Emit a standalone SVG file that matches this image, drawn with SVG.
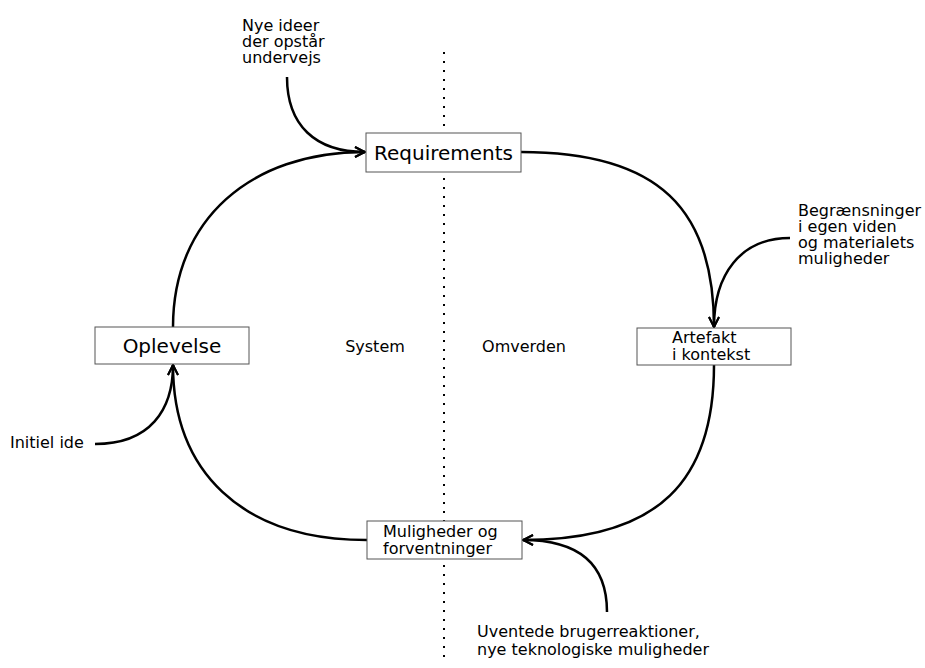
<svg xmlns="http://www.w3.org/2000/svg" width="925" height="668" viewBox="0 0 925 668">
<defs>
<marker id="arr" viewBox="0 0 12 12" refX="11" refY="6" markerWidth="12" markerHeight="12" markerUnits="userSpaceOnUse" orient="auto">
<path d="M1,1 L11,6 L1,11" fill="none" stroke="#000" stroke-width="2"/>
</marker>
<style>
.box{fill:#fff;stroke:#555;stroke-width:1}
.t{font-family:"DejaVu Sans",sans-serif;fill:#000}
.big{font-size:20px}
.sm{font-size:16px}
.c{fill:none;stroke:#000;stroke-width:2.5;marker-end:url(#arr)}
</style>
</defs>
<rect width="925" height="668" fill="#fff"/>
<line x1="444" y1="52" x2="444" y2="662" stroke="#000" stroke-width="2" stroke-dasharray="2 7"/>
<g id="connectors">
<path class="c" d="M521,152 C660,152 714,210 714,327"/>
<path class="c" d="M714,365 C714,480 660,540 523,540"/>
<path class="c" d="M367,540 C240,540 173,470 173,365"/>
<path class="c" d="M173,327 C173,220 250,152 365,152"/>
<path class="c" d="M287,77 C287,125 315,152 365,152"/>
<path class="c" d="M790,238 C740,238 714,275 714,327"/>
<path class="c" d="M95,444 C150,444 173,410 173,365"/>
<path class="c" d="M607,612 C607,565 580,540 523,540"/>
</g>
<g id="requirements">
<rect class="box" x="366" y="133" width="155" height="39"/>
<text class="t big" x="443.5" y="160" text-anchor="middle">Requirements</text>
</g>
<g id="oplevelse">
<rect class="box" x="95" y="327" width="154" height="37"/>
<text class="t big" x="172" y="353" text-anchor="middle">Oplevelse</text>
</g>
<g id="artefakt">
<rect class="box" x="637" y="328" width="154" height="37"/>
<text class="t sm" x="672" y="343">Artefakt</text>
<text class="t sm" x="672" y="360">i kontekst</text>
</g>
<g id="muligheder">
<rect class="box" x="367" y="521" width="155" height="38"/>
<text class="t sm" x="383" y="537">Muligheder og</text>
<text class="t sm" x="383" y="554">forventninger</text>
</g>
<g id="labels">
<text class="t sm" x="375" y="352" text-anchor="middle">System</text>
<text class="t sm" x="524" y="352" text-anchor="middle">Omverden</text>
<text class="t sm" x="242" y="31">Nye ideer</text>
<text class="t sm" x="242" y="47">der opstår</text>
<text class="t sm" x="242" y="63">undervejs</text>
<text class="t sm" x="798" y="216">Begrænsninger</text>
<text class="t sm" x="798" y="232">i egen viden</text>
<text class="t sm" x="798" y="248">og materialets</text>
<text class="t sm" x="798" y="264">muligheder</text>
<text class="t sm" x="10" y="448">Initiel ide</text>
<text class="t sm" x="477" y="637">Uventede brugerreaktioner,</text>
<text class="t sm" x="477" y="655">nye teknologiske muligheder</text>
</g>
</svg>
